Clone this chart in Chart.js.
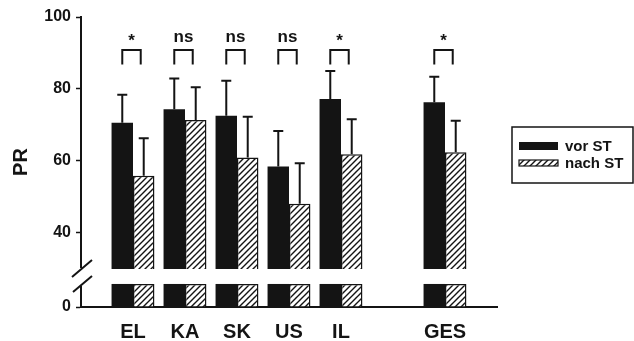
<!DOCTYPE html>
<html>
<head>
<meta charset="utf-8">
<script src="https://cdn.jsdelivr.net/npm/chart.js@4.4.1/dist/chart.umd.min.js"></script>
<style>
  html, body { margin: 0; padding: 0; background: #fff; }
  #wrap { width: 634px; height: 341px; }
</style>
</head>
<body>
<div id="wrap"><canvas id="myChart"></canvas></div>
<script>
// Daten (leere Kategorien am Rand und zwischen IL und GES)
const labels = ['', 'EL', 'KA', 'SK', 'US', 'IL', '', 'GES', ''];
const vorST = [null, 70.6, 74.4, 72.6, 58.5, 77.2, null, 76.3, null];
const vorSD = [null, 7.8, 8.5, 9.7, 9.8, 7.8, null, 7.1, null];
const nachST = [null, 55.9, 71.4, 61.0, 48.1, 61.9, null, 62.4, null];
const nachSD = [null, 10.4, 9.1, 11.3, 11.3, 9.7, null, 8.8, null];
const signif = ['', '*', 'ns', 'ns', 'ns', '*', '', '*', ''];
const yTicksOben = [40, 60, 80, 100];
const yTicksUnten = [0];

// Achsenbruch
const OBEN_MIN = 30, OBEN_MAX = 100;
const UNTEN_MAX = 10.56, UNTEN_BALKEN = 6.4;
const KLAMMER_OBEN = 90.8, KLAMMER_UNTEN = 86.8, SIG_TEXT = 94.3;

const schwarz = '#141414';
const fontName = "Arial, 'Liberation Sans', Helvetica, sans-serif";

// Schraffur-Muster
function makeHatch() {
    const c = document.createElement('canvas');
    c.width = 6; c.height = 6;
    const g = c.getContext('2d');
    g.fillStyle = '#fff';
    g.fillRect(0, 0, 6, 6);
    g.strokeStyle = schwarz;
    g.lineWidth = 1.4;
    g.beginPath();
    g.moveTo(0, 6); g.lineTo(6, 0);
    g.moveTo(-1, 1); g.lineTo(1, -1);
    g.moveTo(5, 7); g.lineTo(7, 5);
    g.stroke();
    return g.createPattern(c, 'repeat');
}
const hatch = makeHatch();

const untenVor = vorST.map(v => v === null ? null : Math.min(v, UNTEN_BALKEN));
const untenNach = nachST.map(v => v === null ? null : Math.min(v, UNTEN_BALKEN));

// Fehlerbalken, Signifikanz-Klammern, Achsenbruch, Legende
const extras = {
    id: 'extras',
    afterDatasetsDraw(chart) {
        const ctx = chart.ctx;
        const y = chart.scales.y;
        const m0 = chart.getDatasetMeta(0);
        const m1 = chart.getDatasetMeta(1);
        ctx.save();
        ctx.strokeStyle = schwarz;
        ctx.lineWidth = 2;
        // Fehlerbalken (nur nach oben)
        [[m0, vorST, vorSD], [m1, nachST, nachSD]].forEach(function(set) {
            const meta = set[0];
            set[1].forEach(function(v, i) {
                if (v === null) return;
                const el = meta.data[i];
                const top = y.getPixelForValue(v + set[2][i]);
                ctx.beginPath();
                ctx.moveTo(el.x, el.y);
                ctx.lineTo(el.x, top);
                ctx.moveTo(el.x - 5, top);
                ctx.lineTo(el.x + 5, top);
                ctx.stroke();
            });
        });
        // Klammern
        const kTop = y.getPixelForValue(KLAMMER_OBEN);
        const kBot = y.getPixelForValue(KLAMMER_UNTEN);
        const tY = y.getPixelForValue(SIG_TEXT);
        ctx.font = 'bold 17px ' + fontName;
        ctx.fillStyle = schwarz;
        ctx.textAlign = 'center';
        ctx.textBaseline = 'alphabetic';
        signif.forEach(function(s, i) {
            if (!s) return;
            const x1 = m0.data[i].x;
            const x2 = m1.data[i].x - 3;
            ctx.beginPath();
            ctx.moveTo(x1, kBot);
            ctx.lineTo(x1, kTop);
            ctx.lineTo(x2, kTop);
            ctx.lineTo(x2, kBot);
            ctx.stroke();
            const mt = ctx.measureText(s);
            const off = (mt.actualBoundingBoxAscent - mt.actualBoundingBoxDescent) / 2;
            ctx.fillText(s, (x1 + x2) / 2, tY + off);
        });
        ctx.restore();
    },
    afterDraw(chart) {
        const ctx = chart.ctx;
        const area = chart.chartArea;
        const ax = area.left;
        const gTop = chart.scales.y.bottom;
        const gBot = chart.scales.yUnten.getPixelForValue(UNTEN_BALKEN);
        ctx.save();
        // Achsenbruch
        ctx.fillStyle = '#fff';
        ctx.fillRect(ax - 4, gTop - 1, 8, gBot - gTop + 3);
        ctx.strokeStyle = schwarz;
        ctx.lineWidth = 2;
        ctx.beginPath();
        ctx.moveTo(ax - 9, gTop + 8);
        ctx.lineTo(ax + 11, gTop - 9);
        ctx.moveTo(ax - 8, gBot + 8);
        ctx.lineTo(ax + 11, gBot - 8);
        ctx.stroke();

        // Y-Titel
        ctx.fillStyle = schwarz;
        ctx.font = 'bold 20px ' + fontName;
        ctx.textAlign = 'center';
        ctx.textBaseline = 'middle';
        ctx.translate(21, (area.top + area.bottom) / 2);
        ctx.rotate(-Math.PI / 2);
        ctx.fillText('PR', 0, 0);
        ctx.setTransform(1, 0, 0, 1, 0, 0);

        // Legende
        const lx = area.right + 15, ly = 127, lw = 633 - lx, lh = 56;
        ctx.lineWidth = 1.5;
        ctx.strokeRect(lx, ly, lw, lh);
        const ds = chart.data.datasets;
        const rows = [{d: ds[0], y: 146, h: 8}, {d: ds[1], y: 163, h: 6}];
        ctx.font = 'bold 15px ' + fontName;
        ctx.textAlign = 'left';
        rows.forEach(function(r) {
            ctx.fillStyle = r.d.backgroundColor;
            ctx.fillRect(lx + 7, r.y - r.h / 2, 39, r.h);
            if (r.d.borderWidth) {
                ctx.lineWidth = 1.2;
                ctx.strokeRect(lx + 7, r.y - r.h / 2, 39, r.h);
            }
            ctx.fillStyle = schwarz;
            ctx.fillText(r.d.label, lx + 53, r.y + 1);
        });
        ctx.restore();
    }
};

const tickFont = { family: fontName, size: 16, weight: 'bold' };

const config = {
    type: 'bar',
    data: {
        labels: labels,
        datasets: [{
            label: 'vor ST',
            data: vorST,
            yAxisID: 'y',
            stack: 'vor',
            backgroundColor: schwarz,
            borderWidth: 0
        }, {
            label: 'nach ST',
            data: nachST,
            yAxisID: 'y',
            stack: 'nach',
            backgroundColor: hatch,
            borderColor: schwarz,
            borderWidth: 1.5
        }, {
            label: 'vor ST unten',
            data: untenVor,
            yAxisID: 'yUnten',
            stack: 'vor',
            backgroundColor: schwarz,
            borderWidth: 0
        }, {
            label: 'nach ST unten',
            data: untenNach,
            yAxisID: 'yUnten',
            stack: 'nach',
            backgroundColor: hatch,
            borderColor: schwarz,
            borderWidth: 1.5
        }]
    },
    options: {
        responsive: true,
        maintainAspectRatio: false,
        animation: false,
        categoryPercentage: 0.825,
        barPercentage: 1.0,
        layout: { padding: { left: 31, right: 137, top: 17, bottom: 0 } },
        plugins: {
            legend: { display: false },
            tooltip: { enabled: false }
        },
        scales: {
            x: {
                offset: false,
                grid: { display: false, drawTicks: false },
                border: { display: true, color: schwarz, width: 2 },
                afterFit: function(scale) { scale.height = 34; },
                ticks: { color: schwarz, font: { family: fontName, size: 20, weight: 'bold' }, padding: 13, autoSkip: false, maxRotation: 0 }
            },
            yUnten: {
                type: 'linear',
                position: 'left',
                stack: 'pr',
                stackWeight: UNTEN_MAX,
                stacked: false,
                min: 0,
                max: UNTEN_MAX,
                afterBuildTicks: function(scale) { scale.ticks = yTicksUnten.map(v => ({ value: v })); },
                afterFit: function(scale) { scale.width = 50; },
                grid: { drawOnChartArea: false, tickLength: 5, tickColor: schwarz, tickWidth: 1.5 },
                border: { display: true, color: schwarz, width: 2 },
                ticks: { color: schwarz, font: tickFont, padding: 5 }
            },
            y: {
                type: 'linear',
                position: 'left',
                stack: 'pr',
                stackWeight: OBEN_MAX - OBEN_MIN,
                stacked: false,
                min: OBEN_MIN,
                max: OBEN_MAX,
                afterBuildTicks: function(scale) { scale.ticks = yTicksOben.map(v => ({ value: v })); },
                afterFit: function(scale) { scale.width = 50; },
                grid: { drawOnChartArea: false, tickLength: 5, tickColor: schwarz, tickWidth: 1.5 },
                border: { display: true, color: schwarz, width: 2 },
                ticks: { color: schwarz, font: tickFont, padding: 5 }
            }
        }
    },
    plugins: [extras]
};

const ctx = document.getElementById('myChart').getContext('2d');
const myChart = new Chart(ctx, config);
</script>
</body>
</html>
